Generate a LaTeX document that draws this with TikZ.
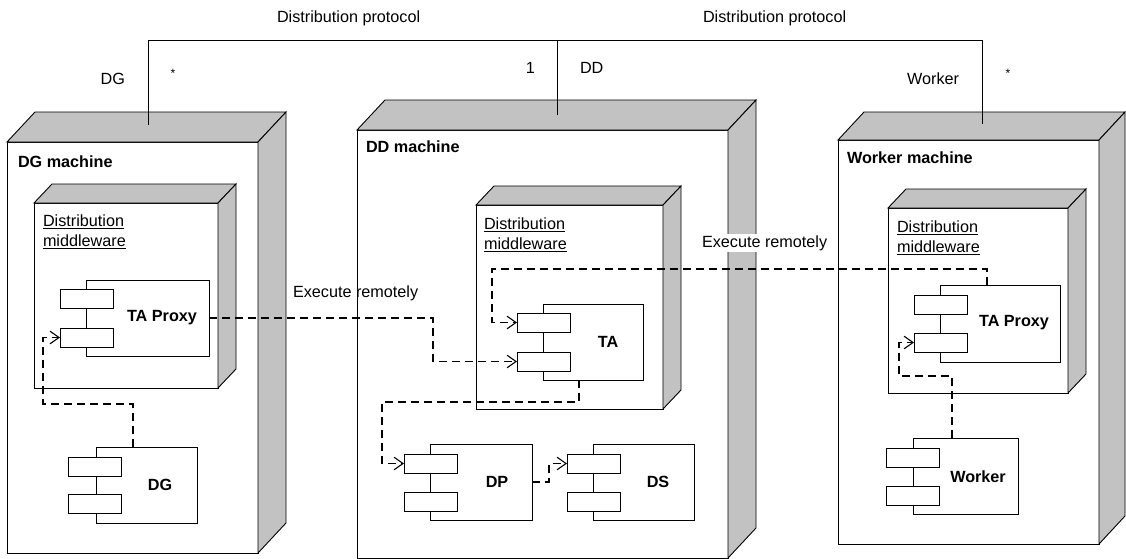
\documentclass[tikz,border=0pt]{standalone}
\usepackage{fontspec}
\setmainfont{Liberation Sans}
\usetikzlibrary{arrows.meta,calc}
\newcommand\boxfaces[3]{%
  \filldraw[face] (#1.north west) -- ($(#1.north west)+(#2,#3)$) -- ($(#1.north east)+(#2,#3)$) -- (#1.north east) -- cycle;
  \filldraw[face] (#1.north east) -- ($(#1.north east)+(#2,#3)$) -- ($(#1.south east)+(#2,#3)$) -- (#1.south east) -- cycle;}
\begin{document}
\begin{tikzpicture}[x=1pt,y=-1pt,
  every node/.style={font=\fontsize{16.2}{20}\selectfont, inner sep=0pt, outer sep=0pt},
  thin line/.style={draw=black, line width=0.9pt},
  front/.style={thin line, fill=white, anchor=north west, rectangle},
  face/.style={draw=black, line width=0.9pt, fill=black!24},
  comp/.style={thin line, fill=white, anchor=north west, rectangle, minimum height=76pt},
  portbox/.style={thin line, fill=white, anchor=north west, rectangle, minimum width=53pt, minimum height=19pt},
  bold/.style={font=\fontsize{16.2}{20}\selectfont\bfseries},
  mwlabel/.style={anchor=west, align=left},
  star/.style={font=\fontsize{12}{14}\selectfont},
  dashline/.style={draw=black, line width=1.6pt, dash pattern=on 8pt off 5pt},
  dep/.style={dashline, -{Straight Barb[length=9pt,width=15pt,line width=1.1pt,angle'=70]}},
  plain/.style={draw=black, line width=0.9pt}]
\useasboundingbox (0,0) rectangle (1126,558);

% ---------- machines ----------
\node[front, minimum width=251pt, minimum height=411pt] (dgm) at (7,142) {};
\boxfaces{dgm}{28}{-30}
\node[front, minimum width=371pt, minimum height=428pt] (ddm) at (357,130) {};
\boxfaces{ddm}{28}{-30}
\node[front, minimum width=261pt, minimum height=404pt] (wkm) at (838,140) {};
\boxfaces{wkm}{26}{-28}

\node[bold, anchor=west] (dgml) at (18,162) {DG machine};
\node[bold, anchor=west] (ddml) at (366,147) {DD machine};
\node[bold, anchor=west] (wkml) at (847,158) {Worker machine};

% ---------- middleware ----------
\node[front, minimum width=184pt, minimum height=185pt] (dgmw) at (34,203) {};
\boxfaces{dgmw}{18}{-19}
\node[front, minimum width=187pt, minimum height=204pt] (ddmw) at (476,205) {};
\boxfaces{ddmw}{18}{-19}
\node[front, minimum width=180pt, minimum height=185pt] (wkmw) at (888,208) {};
\boxfaces{wkmw}{18}{-19}

\node[mwlabel] (dgmwl) at (43,232) {\underline{Distribution}\\\underline{middleware}};
\node[mwlabel] (ddmwl) at (484,235) {\underline{Distribution}\\\underline{middleware}};
\node[mwlabel] (wkmwl) at (897,238) {\underline{Distribution}\\\underline{middleware}};

% ---------- components ----------
% DG machine: TA Proxy
\node[comp, minimum width=123pt] (dgtp) at (86,280) {};
\node[portbox] (dgtpU) at (60,289) {};
\node[portbox] (dgtpL) at (60,328) {};
\node[bold] (dgtpl) at (162,318) {TA Proxy};
% DG machine: DG
\node[comp, minimum width=101pt] (dgc) at (96,447) {};
\node[portbox] (dgcU) at (68,457) {};
\node[portbox] (dgcL) at (68,494) {};
\node[bold] (dgcl) at (160,485) {DG};
% DD machine: TA
\node[comp, minimum width=100pt] (ta) at (543,304) {};
\node[portbox] (taU) at (517,313) {};
\node[portbox] (taL) at (517,352) {};
\node[bold] (tal) at (608,342) {TA};
% DD machine: DP
\node[comp, minimum width=102pt] (dp) at (430,444) {};
\node[portbox] (dpU) at (404,454) {};
\node[portbox] (dpL) at (404,492) {};
\node[bold] (dpl) at (497,482) {DP};
% DD machine: DS
\node[comp, minimum width=101pt] (ds) at (593,444) {};
\node[portbox] (dsU) at (567,454) {};
\node[portbox] (dsL) at (567,492) {};
\node[bold] (dsl) at (658,482) {DS};
% Worker machine: TA Proxy
\node[comp, minimum width=120pt, minimum height=77pt] (wtp) at (940,285) {};
\node[portbox] (wtpU) at (914,295) {};
\node[portbox] (wtpL) at (914,333) {};
\node[bold] (wtpl) at (1014,323) {TA Proxy};
% Worker machine: Worker
\node[comp, minimum width=105pt] (wc) at (913,438) {};
\node[portbox] (wcU) at (886,448) {};
\node[portbox] (wcL) at (886,486) {};
\node[bold] (wcl) at (978,477) {Worker};

% ---------- distribution protocol ----------
\coordinate (dgp) at (148,125);
\coordinate (ddp) at (557,115);
\coordinate (wkp) at (982,124);
\draw[plain] (dgp) -- (dgp |- 0,40) -- (wkp |- 0,40) -- (wkp);
\draw[plain] (ddp) -- (ddp |- 0,40);

\node[anchor=west] (proto1) at (277,18) {Distribution protocol};
\node[anchor=west] (proto2) at (703,18) {Distribution protocol};
\node[anchor=base east] (rdg) at (125,84) {DG};
\node[star, anchor=center] (mdg) at (173,73) {*};
\node[anchor=base east] (mdd) at (535,73) {1};
\node[anchor=base west] (rdd) at (580,73) {DD};
\node[anchor=base east] (rwk) at (959,84) {Worker};
\node[star, anchor=center] (mwk) at (1008,73) {*};

% ---------- dependencies ----------
\draw[dep] ([xshift=-13.5pt]dgc.north) -- (133,404) -- (43,404) -- (43,337.5) -- (dgtpL.west);
\draw[dep] (dgtp.east) -- (433,318) -- (433,361.5) -- (taL.west);
\draw[dep] ([xshift=-13pt]wtp.north) -- (987,269) -- (492,269) -- (492,322.5) -- (taU.west);
\draw[dep] ([xshift=-14pt]ta.south) -- (579,402) -- (382,402) -- (382,463.5) -- (dpU.west);
\draw[dep] (dp.east) -- (549,482) -- (549,463.5) -- (dsU.west);
\draw[dep] ([xshift=-13.5pt]wc.north) -- (952,376) -- (899,376) -- (899,342.5) -- (wtpL.west);

\node[anchor=west] (ex1) at (293,293) {Execute remotely};
\node[anchor=west, fill=white, inner sep=1.5pt] (ex2) at (700.5,243) {Execute remotely};
\end{tikzpicture}
\end{document}
